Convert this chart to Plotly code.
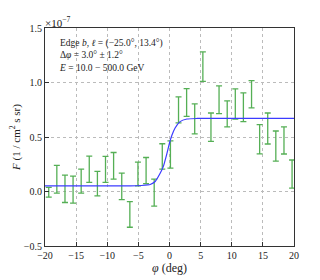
import plotly.graph_objects as go

# data (flux in units of 1e-7)
phi = [-19.40, -18.10, -16.79, -15.49, -14.19, -12.89, -11.58, -10.28, -8.98, -7.67,
       -6.37, -5.07, -3.76, -2.46, -1.16, 0.15, 1.45, 2.75, 4.05, 5.36,
       6.66, 7.96, 9.27, 10.57, 11.87, 13.18, 14.48, 15.78, 17.08, 18.39, 19.69]
flux = [-0.007, 0.112, 0.025, 0.017, 0.096, 0.204, 0.072, 0.203, 0.236, 0.047,
        -0.210, 0.161, 0.192, -0.010, 0.322, 0.340, 0.749, 0.817, 0.666, 1.146,
        0.590, 0.842, 0.712, 0.803, 0.773, 0.892, 0.479, 0.578, 0.417, 0.468, 0.160]
flux_err = [0.044, 0.127, 0.126, 0.124, 0.110, 0.121, 0.112, 0.120, 0.122, 0.122,
            0.118, 0.109, 0.120, 0.124, 0.116, 0.125, 0.120, 0.127, 0.137, 0.135,
            0.130, 0.127, 0.120, 0.138, 0.132, 0.125, 0.134, 0.142, 0.138, 0.124, 0.129]

# fitted step model
fit_x = [-20, -6.3, -4.5, -3.5, -3.1, -2.3, -1.5, -1.0, -0.4, 0.0, 0.4, 0.9, 1.7, 2.8, 4.4, 6.0, 20]
fit_y = [0.052, 0.052, 0.055, 0.060, 0.064, 0.092, 0.167, 0.228, 0.352, 0.445, 0.518, 0.583, 0.641, 0.665, 0.670, 0.671, 0.671]

x_ticks = [-20, -15, -10, -5, 0, 5, 10, 15, 20]
y_ticks = [-0.5, 0.0, 0.5, 1.0, 1.5]

FONT = "Liberation Serif"
GREEN = "rgb(85,175,85)"

fig = go.Figure()
fig.add_trace(go.Scatter(
    x=phi, y=flux, mode="markers",
    marker=dict(size=1, color="rgba(0,0,0,0)"),
    error_y=dict(type="data", array=flux_err, visible=True, color=GREEN, thickness=1.3, width=3),
    showlegend=False, hoverinfo="x+y"))
fig.add_trace(go.Scatter(
    x=fit_x, y=fit_y, mode="lines", line=dict(color="rgb(60,60,255)", width=1.2, shape="spline", smoothing=0.5),
    showlegend=False))

axis_common = dict(
    showline=True, linecolor="#333", linewidth=1, mirror=True,
    ticks="inside", ticklen=4, tickcolor="#333",
    showgrid=True, gridcolor="#bbbbbb", griddash="dot", gridwidth=1,
    zeroline=False, automargin=False, tickfont=dict(family=FONT, size=10, color="#222"),
)
fig.update_xaxes(range=[-20, 20], tickvals=x_ticks,
                 ticktext=[("\u2212" + str(abs(v))) if v < 0 else str(v) for v in x_ticks],
                 title=dict(text="<i>\u03c6</i> (deg)", font=dict(family=FONT, size=12, color="#222"), standoff=0),
                 **axis_common)
fig.update_yaxes(range=[-0.5, 1.5], tickvals=y_ticks,
                 ticktext=[("\u2212" + f"{abs(v):.1f}") if v < 0 else f"{v:.1f}" for v in y_ticks],
                 title=dict(text="<i>F</i> (1 / cm<sup>2</sup> s sr)", font=dict(family=FONT, size=11, color="#222"), standoff=4),
                 **axis_common)

fig.add_annotation(xref="paper", yref="paper", x=0.0, y=1.0, xanchor="left", yanchor="bottom",
                   text="\u00d710<sup>\u22127</sup>", showarrow=False, yshift=-3, xshift=-2,
                   font=dict(family=FONT, size=11, color="#222"))
fig.add_annotation(xref="paper", yref="paper", x=0.05, y=0.965, xanchor="left", yanchor="top", align="left",
                   text="Edge <i>b</i>, <i>\u2113</i> = (\u221225.0\u00b0, 13.4\u00b0)<br>"
                        "\u0394<i>\u03c6</i> = 3.0\u00b0 \u00b1 1.2\u00b0<br>"
                        "<i>E</i> = 10.0 \u2212 500.0 GeV",
                   showarrow=False, font=dict(family=FONT, size=9.5, color="#222"))

# page body adds an 8px offset, so the figure is 8px smaller than the window
fig.update_layout(width=312, height=272, margin=dict(l=37, r=26, t=20, b=34),
                  paper_bgcolor="white", plot_bgcolor="white",
                  font=dict(family=FONT, color="#222"))
fig.write_html("out.html")
